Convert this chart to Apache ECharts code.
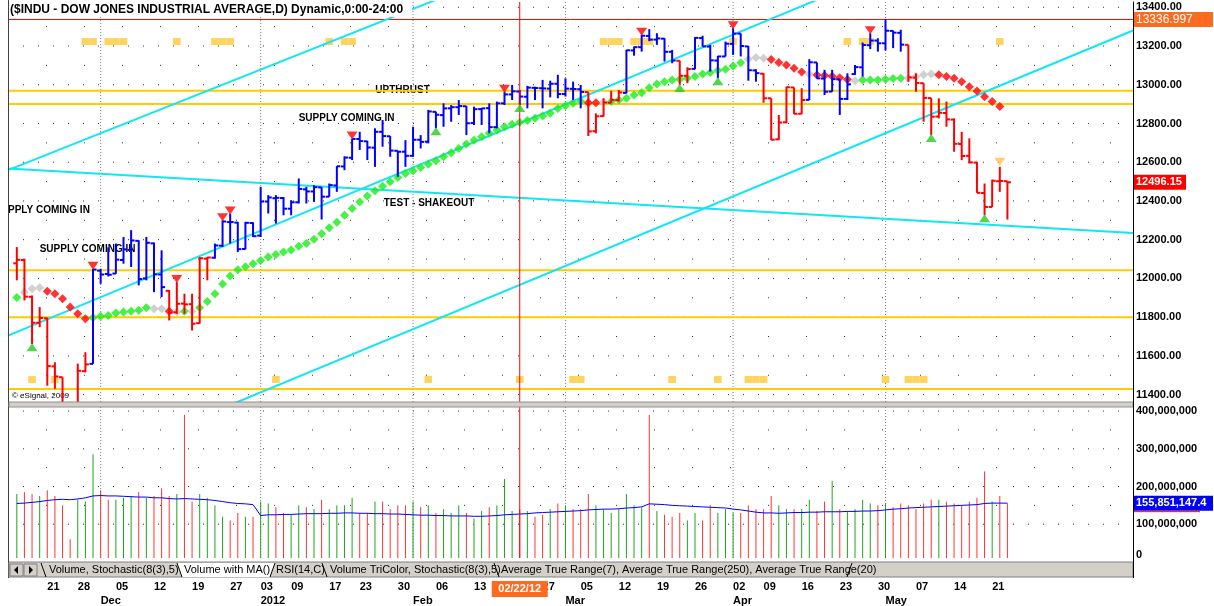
<!DOCTYPE html>
<html><head><meta charset="utf-8">
<script src="https://cdn.jsdelivr.net/npm/echarts@6.0.0/dist/echarts.min.js"></script>
<style>html,body{margin:0;padding:0;background:#fff;overflow:hidden}#chart{width:1214px;height:606px}</style>
</head><body><div id="chart"></div>
<script>
// ---------------- DATA ----------------
const dates = [
 '2011-11-15','2011-11-16','2011-11-17','2011-11-18','2011-11-21','2011-11-22','2011-11-23','2011-11-25','2011-11-28','2011-11-29','2011-11-30',
 '2011-12-01','2011-12-02','2011-12-05','2011-12-06','2011-12-07','2011-12-08','2011-12-09','2011-12-12','2011-12-13','2011-12-14','2011-12-15','2011-12-16','2011-12-19','2011-12-20','2011-12-21','2011-12-22','2011-12-23','2011-12-27','2011-12-28','2011-12-29','2011-12-30',
 '2012-01-03','2012-01-04','2012-01-05','2012-01-06','2012-01-09','2012-01-10','2012-01-11','2012-01-12','2012-01-13','2012-01-17','2012-01-18','2012-01-19','2012-01-20','2012-01-23','2012-01-24','2012-01-25','2012-01-26','2012-01-27','2012-01-30','2012-01-31',
 '2012-02-01','2012-02-02','2012-02-03','2012-02-06','2012-02-07','2012-02-08','2012-02-09','2012-02-10','2012-02-13','2012-02-14','2012-02-15','2012-02-16','2012-02-17','2012-02-21','2012-02-22','2012-02-23','2012-02-24','2012-02-27','2012-02-28','2012-02-29',
 '2012-03-01','2012-03-02','2012-03-05','2012-03-06','2012-03-07','2012-03-08','2012-03-09','2012-03-12','2012-03-13','2012-03-14','2012-03-15','2012-03-16','2012-03-19','2012-03-20','2012-03-21','2012-03-22','2012-03-23','2012-03-26','2012-03-27','2012-03-28','2012-03-29','2012-03-30',
 '2012-04-02','2012-04-03','2012-04-04','2012-04-05','2012-04-09','2012-04-10','2012-04-11','2012-04-12','2012-04-13','2012-04-16','2012-04-17','2012-04-18','2012-04-19','2012-04-20','2012-04-23','2012-04-24','2012-04-25','2012-04-26','2012-04-27','2012-04-30',
 '2012-05-01','2012-05-02','2012-05-03','2012-05-04','2012-05-07','2012-05-08','2012-05-09','2012-05-10','2012-05-11','2012-05-14','2012-05-15','2012-05-16','2012-05-17','2012-05-18','2012-05-21','2012-05-22','2012-05-23'
];
const opens = [12078,12095,11905,11771,11794,11546,11490,11257,11232,11521,11559,
 12040,12023,12025,12095,12147,12194,12000,12181,12020,11936,11825,11870,11867,11769,12102,12107,12169,12291,12288,12152,12286,
 12221,12397,12414,12415,12360,12393,12460,12449,12470,12422,12480,12578,12623,12720,12708,12675,12757,12734,12659,12654,
 12633,12716,12706,12860,12843,12878,12884,12889,12802,12874,12879,12781,12904,12950,12965,12938,12984,12982,12980,13005,
 12952,12979,12977,12962,12760,12838,12907,12921,12958,13177,13194,13252,13233,13238,13170,13124,13046,13082,13241,13197,13125,13146,
 13211,13264,13198,13074,13057,12930,12718,12806,12986,12850,12922,13115,13032,12965,13028,12927,13055,13090,13204,13228,
 13214,13278,13268,13206,13037,13008,12931,12836,12854,12820,12694,12633,12598,12441,12369,12502,12502];
const highs = [12162,12102,11912,11852,11797,11567,11490,11363,11560,11619,12050,
 12050,12160,12180,12214,12249,12197,12214,12185,12145,11940,11981,11921,11921,12111,12111,12180,12300,12335,12292,12292,12290,
 12473,12430,12430,12420,12404,12516,12473,12481,12472,12490,12580,12630,12722,12757,12710,12775,12818,12735,12659,12714,
 12783,12740,12870,12861,12904,12895,12921,12890,12887,12880,12904,12913,12964,12999,12973,12994,12990,13025,13021,13051,
 13033,13016,12999,12962,12852,12930,12968,12973,13180,13197,13258,13287,13266,13240,13180,13125,13090,13246,13253,13206,13149,13223,
 13292,13265,13200,13080,13060,12930,12844,12990,12986,12982,13132,13115,13077,13077,13028,13059,13102,13218,13266,13240,
 13338,13280,13284,13206,13059,13008,12931,12930,12913,12826,12757,12723,12602,12490,12510,12576,12502];
const lows = [11990,11886,11660,11748,11446,11430,11255,11231,11232,11515,11559,
 11972,12010,12024,12076,12059,11964,11990,11929,11904,11783,11817,11817,11731,11766,11990,12102,12162,12180,12136,12150,12214,
 12214,12335,12283,12326,12326,12387,12387,12395,12304,12421,12447,12559,12611,12663,12611,12576,12680,12628,12525,12576,
 12628,12671,12697,12775,12783,12809,12844,12740,12792,12792,12749,12775,12895,12921,12895,12878,12921,12878,12935,12930,
 12939,12921,12878,12735,12749,12835,12906,12913,12956,13150,13171,13225,13206,13120,13111,12999,13008,13080,13197,13068,13033,13146,
 13154,13146,13021,13016,12907,12714,12714,12801,12849,12849,12921,13033,12947,12964,12844,12921,13051,13042,13184,13171,
 13177,13189,13171,13016,12964,12809,12740,12826,12783,12654,12611,12594,12442,12326,12369,12447,12304];
const closes = [12096,11906,11771,11796,11547,11494,11258,11232,11523,11556,12046,
 12020,12019,12097,12150,12196,11997,12184,12021,11955,11823,11869,11866,11766,12104,12108,12170,12294,12291,12151,12287,12218,
 12397,12418,12416,12360,12393,12462,12449,12471,12422,12482,12579,12624,12720,12709,12676,12757,12735,12660,12654,12633,
 12716,12705,12862,12845,12878,12884,12890,12801,12874,12878,12781,12904,12950,12966,12939,12985,12983,12981,13005,12952,
 12980,12978,12963,12759,12837,12908,12922,12960,13178,13194,13253,13233,13239,13170,13125,13046,13081,13242,13198,13126,13146,13212,
 13264,13200,13075,13060,12930,12716,12805,12987,12850,12921,13116,13033,12964,13029,12927,13002,13091,13205,13228,13214,
 13279,13269,13207,13038,13009,12932,12835,12855,12821,12695,12632,12599,12442,12369,12504,12503,12496.15];
// bar colour per month: B = blue, R = red
const barColors = ('RRRRRRRRRRB' + 'BBBBBBBBBRRRRRRBBBBBB' + 'BBBBBBBBBBBBBBBBBBBB' + 'BBBBBBBBBBBBBBBBBBBB' +
  'BBBRRRRRBBBBBBBRRBBBBB' + 'BBBBRRRRRRBBBBBBBBBB' + 'BBBRRRRRRRRRRRRRR').split('');
// moving average diamonds
const maValues = [11901,11929,11947,11952,11934,11921,11895,11852,11817,11792,11797,
 11805,11809,11821,11826,11831,11835,11849,11843,11843,11831,11826,11831,11831,11849,11881,11921,11971,12012,12045,12060,12076,
 12093,12110,12123,12136,12147,12166,12180,12202,12231,12261,12290,12326,12361,12395,12425,12452,12476,12499,12521,12542,
 12556,12573,12590,12607,12628,12649,12671,12694,12714,12731,12749,12766,12783,12796,12806,12816,12827,12839,12853,12877,
 12892,12904,12915,12907,12907,12909,12913,12921,12930,12947,12959,12985,13004,13016,13025,13028,13034,13042,13056,13063,13073,13080,
 13097,13114,13132,13140,13137,13130,13115,13102,13085,13066,13056,13050,13048,13044,13036,13027,13021,13025,13025,13025,
 13028,13032,13034,13034,13042,13051,13056,13051,13042,13034,13016,12990,12968,12938,12913,12887,null];
// G = green, R = red, N = neutral grey
const maColors = ('GNNNRRRRRRG' + 'GGGGGGGNNRNGNGGGGGGGG' + 'GGGGGGGGGGGGGGGGGGGG' + 'GGGGGGGGGGGGGGGGGGGG' +
  'GGGRRNGGGGGGGGGGGGGGGG' + 'GGNNNRRRRRNRRRRRNGGG' + 'GGGNNNNRRRRRRRRR-').split('');
const downSignals = ['2011-11-30','2011-12-15','2011-12-23','2011-12-27','2012-01-20','2012-02-17','2012-03-15','2012-04-02','2012-04-27'];
const warnSignals = ['2012-05-22'];
const upSignals = ['2011-11-17','2012-02-06','2012-02-22','2012-03-22','2012-03-29','2012-05-09','2012-05-18'];
const topBoxDates = ['2011-11-29','2011-11-30','2011-12-02','2011-12-05','2011-12-06','2011-12-15','2011-12-22','2011-12-23','2011-12-27',
  '2012-01-17','2012-01-19','2012-01-20','2012-03-08','2012-03-09','2012-03-12','2012-03-14','2012-03-15','2012-03-16',
  '2012-04-02','2012-04-24','2012-04-26','2012-04-27','2012-05-22'];
const bottomBoxDates = ['2011-11-17','2011-11-22','2012-01-05','2012-02-03','2012-02-22','2012-03-02','2012-03-05','2012-03-21',
  '2012-03-29','2012-04-04','2012-04-05','2012-04-09','2012-05-01','2012-05-04','2012-05-07','2012-05-08'];
const topBoxLevel = 13223, bottomBoxLevel = 11478;
// volume (millions of shares)
const volumeM = [180,185,180,175,190,175,150,60,165,160,285,
 190,165,165,170,175,185,170,175,195,175,180,390,160,180,170,150,120,110,130,120,120,
 160,155,145,130,125,150,145,140,165,140,150,150,170,130,130,160,160,140,150,150,
 160,145,150,130,140,130,150,130,115,135,145,150,220,135,140,135,120,125,140,155,
 150,140,140,180,150,140,130,140,180,150,145,390,135,125,120,130,110,130,110,150,130,140,
 130,130,150,140,140,175,150,140,140,140,165,135,160,215,140,135,140,165,155,150,
 155,145,155,150,140,155,165,165,160,155,150,160,170,240,160,175,155];
const volMAM = [155,156,158,160,163,165,166,165,167,170,175,
 176,175,175,174,173,172,172,170,170,168,167,168,167,166,165,163,160,157,155,154,152,
 123,125,125,126,126,127,128,128,128,129,129,130,130,129,129,128,128,127,127,126,
 125,124,124,123,123,122,122,122,121,121,122,123,125,126,127,128,130,131,132,133,
 134,135,136,138,139,140,140,141,143,144,146,154,153,152,150,149,148,147,146,145,144,143,
 140,138,135,132,130,130,129,130,131,131,132,132,133,133,133,134,134,135,135,136,
 138,140,141,143,144,145,146,147,148,149,150,151,152,155,156,156,155.8511474];
// levels and lines
const supportLevels = [12969, 12901, 12042, 11800, 11429];
const highLevel = 13336.997;
const trendLines = [ // two anchor points each: [barIndex, price]
  [[-1.157, 12559], [34.54, 13118]],
  [[-1.157, 11705], [101.86, 13387]],
  [[99.11, 12507], [132.44, 13051]],
  [[-1.157, 12568], [132.44, 12266]]
];
const priceTicks = [11400,11600,11800,12000,12200,12400,12600,12800,13000,13200,13400];
const priceRows = [11400,11500,11600,11700,11800,11900,12000,12100,12200,12300,12400,12500,12600,12700,12800,12900,13000,13100,13200,13300,13400];
const volTicks = [100e6,200e6,300e6,400e6];
const volRows = [100e6,150e6,200e6,250e6,300e6,350e6,400e6];
const weekStarts = ['2011-11-21','2011-11-28','2011-12-05','2011-12-12','2011-12-19','2011-12-27','2012-01-03','2012-01-09','2012-01-17',
 '2012-01-23','2012-01-30','2012-02-06','2012-02-13','2012-02-21','2012-02-27','2012-03-05','2012-03-12','2012-03-19','2012-03-26',
 '2012-04-02','2012-04-09','2012-04-16','2012-04-23','2012-04-30','2012-05-07','2012-05-14','2012-05-21'];
const monthStarts = {'2011-12-01':'Dec','2012-01-03':'2012','2012-02-01':'Feb','2012-03-01':'Mar','2012-04-02':'Apr','2012-05-01':'May'};
const cursorDate = '2012-02-22';
const annotations = [
  {text:'PPLY COMING IN', k:-1.157, p:12353},
  {text:'SUPPLY COMING IN', k:3.0, p:12150},
  {text:'SUPPLY COMING IN', k:36.99, p:12827},
  {text:'UPTHRUST', k:47.05, p:12969},
  {text:'TEST - SHAKEOUT', k:48.15, p:12388}
];
const headerText = '($INDU - DOW JONES INDUSTRIAL AVERAGE,D) Dynamic,0:00-24:00';
const tabs = ['Volume, Stochastic(8(3),5)','Volume with MA()','RSI(14,C)','Volume TriColor, Stochastic(8(3),5)',
  'Average True Range(7), Average True Range(250), Average True Range(20)'];

// ---------------- CHART ----------------
const XMIN = -1.157, XMAX = 146.48;
const PMIN = 11361.9, PMAX = 13427.2;
const VMIN = 10.5e6, VMAX = 410.7e6;
const FONT = '"Liberation Sans", Arial, sans-serif';
const idx = d => dates.indexOf(d);
const chart = echarts.init(document.getElementById('chart'), null, {renderer:'canvas'});

const series = [];
function hline(xi, yi, v, style, z){
  series.push({type:'line', xAxisIndex:xi, yAxisIndex:yi, data:[[XMIN,v],[XMAX,v]], symbol:'none', silent:true,
    z:z||1, lineStyle:style, animation:false});
}
function vline(xi, yi, k, lo, hi, style, z){
  series.push({type:'line', xAxisIndex:xi, yAxisIndex:yi, data:[[k,lo],[k,hi]], symbol:'none', silent:true,
    z:z||1, lineStyle:style, animation:false});
}
priceRows.forEach(v => hline(0,0,v,{color:'#333', width:1, type: (v % 200 === 0) ? [1,14] : [1,37]}));
volRows.forEach(v => hline(1,1,v,{color:'#333', width:1, type: (v % 100e6 === 0) ? [1,14] : [1,37]}));
Object.keys(monthStarts).forEach(d => {
  vline(0,0,idx(d),PMIN,PMAX,{color:'#808080', width:1, type:[1,2]});
  vline(1,1,idx(d),VMIN,VMAX,{color:'#808080', width:1, type:[1,2]});
});
supportLevels.forEach(v => hline(0,0,v,{color:'#ffcc00', width:2, type:'solid'}, 3));
hline(0,0,highLevel,{color:'#ff0000', width:1, type:'solid'}, 3);
trendLines.forEach(([a,b]) => {
  const slope = (b[1]-a[1])/(b[0]-a[0]);
  series.push({type:'line', xAxisIndex:0, yAxisIndex:0, symbol:'none', silent:true, z:3, clip:true, animation:false,
    data:[[XMIN, a[1] + slope*(XMIN-a[0])],[XMAX, a[1] + slope*(XMAX-a[0])]],
    lineStyle:{color:'#12e6f2', width:2}});
});
vline(0,0,idx(cursorDate),PMIN,PMAX,{color:'#ff0000', width:1}, 6);
vline(1,1,idx(cursorDate),VMIN,VMAX,{color:'#ff0000', width:1}, 6);

// indicator boxes
series.push({type:'custom', xAxisIndex:0, yAxisIndex:0, z:2, animation:false, silent:true, clip:true,
  data: topBoxDates.map(d => [idx(d), topBoxLevel]).concat(bottomBoxDates.map(d => [idx(d), bottomBoxLevel])),
  encode:{x:0, y:1},
  renderItem:(params, api) => {
    const a = api.coord([api.value(0)-0.5, api.value(1)]), b = api.coord([api.value(0)+0.5, api.value(1)]);
    return {type:'rect', shape:{x:a[0], y:a[1]-3.5, width:b[0]-a[0], height:7}, style:{fill:'#ffd45e'}};
  }});
// OHLC bars
series.push({type:'custom', xAxisIndex:0, yAxisIndex:0, z:5, animation:false, clip:true,
  data: dates.map((d,k) => [k, opens[k], highs[k], lows[k], closes[k]]),
  encode:{x:0, y:[1,2,3,4]},
  renderItem:(params, api) => {
    const k = api.value(0);
    const o = api.coord([k, api.value(1)]), h = api.coord([k, api.value(2)]);
    const l = api.coord([k, api.value(3)]), c = api.coord([k, api.value(4)]);
    const col = barColors[params.dataIndex] === 'B' ? '#0000ff' : '#ff0000';
    return {type:'group', children:[
      {type:'line', shape:{x1:h[0], y1:h[1], x2:l[0], y2:l[1]}, style:{stroke:col, lineWidth:2}},
      {type:'line', shape:{x1:o[0]-3.5, y1:o[1], x2:o[0], y2:o[1]}, style:{stroke:col, lineWidth:2}},
      {type:'line', shape:{x1:c[0], y1:c[1], x2:c[0]+3.5, y2:c[1]}, style:{stroke:col, lineWidth:2}}
    ]};
  }});
// MA diamonds
const maCol = {G:'#16ee16', R:'#ff0000', N:'#c4c4c4'};
series.push({type:'scatter', xAxisIndex:0, yAxisIndex:0, z:4, animation:false, symbol:'diamond', symbolSize:[9,9],
  data: maValues.map((v,k) => v == null ? null : {value:[k, v], itemStyle:{color: maCol[maColors[k]]}}).filter(Boolean)});
// signal triangles
series.push({type:'scatter', xAxisIndex:0, yAxisIndex:0, z:6, animation:false, symbol:'triangle', symbolRotate:180,
  symbolSize:[11,8], symbolOffset:[0,-3], itemStyle:{color:'#ff0000'},
  data: downSignals.map(d => [idx(d), highs[idx(d)]])});
series.push({type:'scatter', xAxisIndex:0, yAxisIndex:0, z:6, animation:false, symbol:'triangle', symbolRotate:180,
  symbolSize:[11,8], symbolOffset:[0,-5], itemStyle:{color:'#ffc34d'},
  data: warnSignals.map(d => [idx(d), highs[idx(d)]])});
series.push({type:'scatter', xAxisIndex:0, yAxisIndex:0, z:6, animation:false, symbol:'triangle',
  symbolSize:[11,8], symbolOffset:[0,3], itemStyle:{color:'#22cc22'},
  data: upSignals.map(d => [idx(d), lows[idx(d)]])});
// volume
const volSeriesIndex = series.length;
series.push({type:'custom', xAxisIndex:1, yAxisIndex:1, z:4, animation:false, clip:true,
  data: dates.map((d,k) => [k, volumeM[k]*1e6]),
  encode:{x:0, y:1},
  renderItem:(params, api) => {
    const k = api.value(0);
    const t = api.coord([k, api.value(1)]), b = api.coord([k, VMIN]);
    const up = k === 0 ? true : closes[k] >= closes[k-1];
    return {type:'line', shape:{x1:t[0], y1:t[1], x2:b[0], y2:b[1]}, style:{stroke: up ? '#1fa51f' : '#ff3333', lineWidth:1}};
  }});
series.push({type:'line', xAxisIndex:1, yAxisIndex:1, z:5, animation:false, symbol:'none',
  data: volMAM.map((v,k) => [k, v*1e6]), lineStyle:{color:'#0000ff', width:1}});

const axisLabelStyle = {color:'#000', fontWeight:'bold', fontSize:11, fontFamily:FONT};
chart.setOption({
  animation:false,
  backgroundColor:'#ffffff',
  grid:[{left:8, right:81, top:2, height:400}, {left:8, right:81, top:407, height:153}],
  xAxis:[
    {type:'value', gridIndex:0, min:XMIN, max:XMAX, show:false},
    {type:'value', gridIndex:1, min:XMIN, max:XMAX, position:'bottom',
      axisLine:{show:false, onZero:false}, axisTick:{show:false}, splitLine:{show:false},
      axisLabel:Object.assign({customValues: weekStarts.map(idx), align:'left', margin:23,
        formatter: v => dates[Math.round(v)].slice(8,10)}, axisLabelStyle)},
    {type:'value', gridIndex:1, min:XMIN, max:XMAX, position:'bottom',
      axisLine:{show:false, onZero:false}, axisTick:{show:false}, splitLine:{show:false},
      axisLabel:Object.assign({customValues: Object.keys(monthStarts).map(idx), align:'left', margin:37,
        formatter: v => monthStarts[dates[Math.round(v)]]}, axisLabelStyle)}
  ],
  yAxis:[
    {type:'value', gridIndex:0, position:'right', min:PMIN, max:PMAX,
      axisLine:{show:true, onZero:false, lineStyle:{color:'#000', width:1}}, axisTick:{show:false}, splitLine:{show:false},
      axisLabel:Object.assign({customValues: priceTicks, margin:3, formatter: v => v.toFixed(2)}, axisLabelStyle)},
    {type:'value', gridIndex:1, position:'right', min:VMIN, max:VMAX,
      axisLine:{show:true, onZero:false, lineStyle:{color:'#000', width:1}}, axisTick:{show:false}, splitLine:{show:false},
      axisLabel:Object.assign({customValues: volTicks, margin:3, formatter: v => Math.round(v).toLocaleString('en-US')}, axisLabelStyle)}
  ],
  series: series
});

// ---------------- DECORATIONS ----------------
const P = (k, v) => chart.convertToPixel({gridIndex:0}, [k, v]);
const V = (k, v) => chart.convertToPixel({seriesIndex:volSeriesIndex}, [k, v]);
const g = [];
function txt(x, y, text, font, fill, align, z){
  g.push({type:'text', x:x, y:y, z:(z == null ? 50 : z), silent:true,
    style:{text:text, font:font, fill:fill, align:align||'left', textAlign:align||'left', verticalAlign:'middle', textVerticalAlign:'middle'}});
}
// annotations (behind bars)
annotations.forEach(a => {
  const p = P(a.k, a.p);
  txt(p[0], p[1], a.text, 'bold 10px ' + FONT, '#000', 'left', 0);
});
txt(12, 396, '\u00A9 eSignal, 2009', '8px ' + FONT, '#000', 'left', 0);
// header
g.push({type:'rect', shape:{x:9, y:1, width:403, height:16}, style:{fill:'#fff'}, z:40, silent:true});
txt(10, 10, headerText, 'bold 12px ' + FONT, '#000', 'left', 60);
// frame: left border, panel separator, tab strip
g.push({type:'line', shape:{x1:8.5, y1:0, x2:8.5, y2:578}, style:{stroke:'#404040', lineWidth:1}, z:60, silent:true});
g.push({type:'rect', shape:{x:9, y:402, width:1124, height:5}, style:{fill:'#d4d0c8', stroke:'#909090', lineWidth:1}, z:60, silent:true});
g.push({type:'rect', shape:{x:9, y:562, width:1124, height:15}, style:{fill:'#d4d0c8', stroke:'#808080', lineWidth:1}, z:60, silent:true});
g.push({type:'line', shape:{x1:1133.5, y1:400, x2:1133.5, y2:578}, style:{stroke:'#000', lineWidth:1}, z:61, silent:true});
// nav buttons
[[10,'l'],[24,'r']].forEach(([x,dir]) => {
  g.push({type:'rect', shape:{x:x, y:564, width:13, height:12}, style:{fill:'#d4d0c8', stroke:'#808080'}, z:61, silent:true});
  const pts = dir === 'l' ? [[x+8,566],[x+8,574],[x+4,570]] : [[x+5,566],[x+5,574],[x+9,570]];
  g.push({type:'polygon', shape:{points:pts}, style:{fill:'#000'}, z:62, silent:true});
});
// tabs
const tabX = [49, 184, 276, 330, 501];
const sepX = [[41,'\\'],[177,'\\'],[270,'/'],[322,'\\'],[494,'\\'],[847,'/']];
g.push({type:'polygon', shape:{points:[[177,563],[275,563],[270,577],[182,577]]}, style:{fill:'#ffffff'}, z:61, silent:true});
sepX.forEach(([x,s]) => {
  const shape = s === '\\' ? {x1:x, y1:563, x2:x+5, y2:577} : {x1:x+5, y1:563, x2:x, y2:577};
  g.push({type:'line', shape:shape, style:{stroke:'#000', lineWidth:1}, z:62, silent:true});
});
tabs.forEach((t,i) => txt(tabX[i], 570, t, '11px ' + FONT, '#000', 'left', 63));
// right axis value boxes
function valueBox(y, text, bg, font, w){
  g.push({type:'rect', shape:{x:1134, y:y-7.5, width:w, height:15}, style:{fill:bg}, z:70, silent:true});
  txt(1136, y, text, font, '#fff', 'left', 71);
}
valueBox(P(0, highLevel)[1], highLevel.toFixed(3), '#ff6a1f', '12px ' + FONT, 79);
valueBox(P(0, closes[closes.length-1])[1], closes[closes.length-1].toFixed(2), '#ff0000', 'bold 11px ' + FONT, 52);
const lastVolMA = volMAM[volMAM.length-1]*1e6;
const vy = V(0, lastVolMA)[1];
valueBox(vy, lastVolMA.toLocaleString('en-US', {minimumFractionDigits:1, maximumFractionDigits:1}), '#0000ff', 'bold 11px ' + FONT, 79);
g.push({type:'line', shape:{x1:1134, y1:vy+8.5, x2:1200, y2:vy+8.5}, style:{stroke:'#ff0000', lineWidth:1}, z:71, silent:true});
txt(1136, 555, '0', 'bold 11px ' + FONT, '#000', 'left', 70);
// cursor date box on the time axis
const cx = V(idx(cursorDate), VMIN)[0];
const cd = cursorDate.split('-');
g.push({type:'rect', shape:{x:cx-28, y:581, width:56, height:16}, style:{fill:'#ff6a1f'}, z:80, silent:true});
txt(cx, 589, cd[1] + '/' + cd[2] + '/' + cd[0].slice(2), 'bold 11px ' + FONT, '#fff', 'center', 81);
chart.setOption({graphic:{elements:g}});
</script></body></html>
